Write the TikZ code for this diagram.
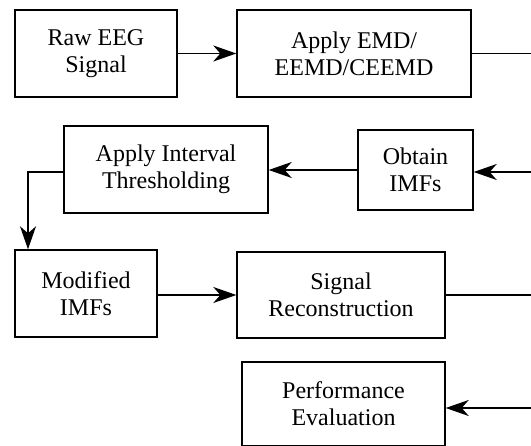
\documentclass[tikz,border=0pt]{standalone}
\usepackage{fontspec}
\setmainfont{Liberation Serif}
\usetikzlibrary{arrows.meta}
\begin{document}
\begin{tikzpicture}[x=1bp,y=-1bp,
  box/.style={draw,line width=1.4bp,align=center,inner sep=0pt,
    font=\fontsize{24bp}{27bp}\selectfont},
  conn/.style={line width=1.5bp},
  arr/.style={conn,-{Stealth[length=23bp,width=16bp,inset=7bp]}},
  thin/.style={line width=1.1bp}]
\useasboundingbox (0,0) rectangle (531,446);
\node[box,minimum width=162bp,minimum height=87bp] (raw) at (96,53.5) {Raw EEG\\Signal};
\node[box,minimum width=234bp,minimum height=87bp] (emd) at (354,53.5) {Apply EMD/\\EEMD/CEEMD};
\node[box,minimum width=115bp,minimum height=80bp] (obt) at (415.5,170) {Obtain\\IMFs};
\node[box,minimum width=204bp,minimum height=87bp] (thr) at (166,169.5) {Apply Interval\\Thresholding};
\node[box,minimum width=142bp,minimum height=87bp] (mod) at (86,293.5) {Modified\\IMFs};
\node[box,minimum width=208bp,minimum height=86bp] (rec) at (341,295) {Signal\\Reconstruction};
\node[box,minimum width=203bp,minimum height=84bp] (perf) at (343.5,404) {Performance\\Evaluation};
\coordinate (c1) at (533,53.5);
\coordinate (c2) at (533,172);
\coordinate (c3) at (28,172);
\coordinate (c4) at (533,295);
\coordinate (c5) at (533,408);
\draw[arr] (raw.east) -- (emd.west);
\draw[thin] (emd.east) -- (c1) -- (c2);
\draw[arr] (c2) -- (obt.east |- c2);
\draw[arr] (obt.west |- 0,170) -- (thr.east |- 0,170);
\draw[arr] (thr.west |- c3) -- (c3) -- (c3 |- mod.north);
\draw[arr] (mod.east |- 0,295) -- (rec.west |- 0,295);
\draw[thin] (rec.east) -- (c4) -- (c5);
\draw[arr] (c5) -- (perf.east |- c5);
\end{tikzpicture}
\end{document}
